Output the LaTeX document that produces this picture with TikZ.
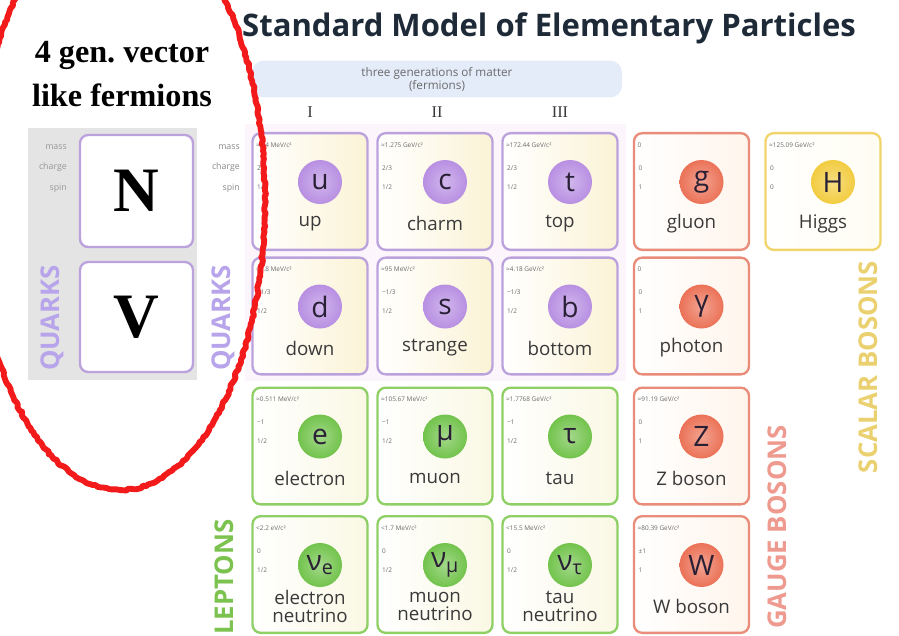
\documentclass[tikz,border=0pt]{standalone}
\usepackage{fontspec}
\setmainfont{Open Sans}
\newfontfamily\headserif{Liberation Serif}
\usetikzlibrary{positioning,decorations.pathmorphing}
\definecolor{TitleInk}{HTML}{1E2A38}
\definecolor{SymInk}{HTML}{2A2035}
\definecolor{ValInk}{HTML}{6A6A6A}
\definecolor{NameInk}{HTML}{3A3A3A}
\definecolor{PanelGrey}{HTML}{E4E4E4}
\definecolor{HeaderBlue}{HTML}{E4ECFA}
\definecolor{QuarkTint}{HTML}{FCF6FC}
\definecolor{RoughRed}{HTML}{F21A1A}
\definecolor{QuarkEdge}{HTML}{BBA2DD}
\definecolor{QuarkFill}{HTML}{FBF3D6}
\definecolor{QuarkBall}{HTML}{B88FE2}
\definecolor{QuarkText}{HTML}{B8A4EA}
\definecolor{LeptonEdge}{HTML}{8FD066}
\definecolor{LeptonFill}{HTML}{FAF8E4}
\definecolor{LeptonBall}{HTML}{72C34C}
\definecolor{LeptonText}{HTML}{7CC24F}
\definecolor{GaugeEdge}{HTML}{E98C7A}
\definecolor{GaugeFill}{HTML}{FFF5EC}
\definecolor{GaugeBall}{HTML}{EB7257}
\definecolor{GaugeText}{HTML}{EE9A8F}
\definecolor{ScalarEdge}{HTML}{F1D56C}
\definecolor{ScalarFill}{HTML}{FFFDF2}
\definecolor{ScalarBall}{HTML}{F2CC40}
\definecolor{ScalarText}{HTML}{EBD070}

\begin{document}
\begin{tikzpicture}[x=0.03cm,y=-0.03cm,
    cell/.style={draw=#1Edge,line width=2pt,rounded corners=7pt,left color=white,right color=#1Fill,
      minimum width=3.45cm,minimum height=3.5cm,inner sep=0pt},
    ball/.style={circle,inner color=#1Ball!65,outer color=#1Ball,minimum size=1.32cm,inner sep=0pt,
      font=\fontsize{24}{24}\selectfont,text=SymInk},
    pname/.style={align=center,font=\fontsize{16}{15}\selectfont,text=NameInk,inner sep=0pt},
    val/.style={anchor=west,font=\fontsize{5.5}{6}\selectfont,text=ValInk,inner sep=0pt},
    rowlab/.style={anchor=east,font=\fontsize{7.5}{8}\selectfont,text=ValInk!80,inner sep=0pt},
    group/.style={rotate=90,font=\fontsize{22}{22}\selectfont\bfseries,inner sep=0pt},
    vlbox/.style={draw=QuarkEdge,line width=2pt,fill=white,rounded corners=7pt,minimum width=3.39cm,inner sep=0pt,
      font=\headserif\bfseries\fontsize{54}{54}\selectfont}]
  \useasboundingbox (0,0) rectangle (899,635);
  \clip (0,0) rectangle (899,635);
  \fill[white] (0,0) rectangle (899,635);

  \node[font=\fontsize{26.5}{26.5}\selectfont\bfseries,text=TitleInk,inner sep=0pt] (title) at (549,28)
    {Standard Model of Elementary Particles};

  \fill[QuarkTint] (245,124) rectangle (626,381);
  \node[fill=HeaderBlue,rounded corners=10pt,minimum width=11.1cm,minimum height=1.1cm,align=center,
    font=\fontsize{10}{11}\selectfont,text=ValInk] (header) at (437,79)
    {three generations of matter\\(fermions)};
  \node[font=\headserif\fontsize{14}{14}\selectfont,text=NameInk] (gen1) at (310,112) {I};
  \node[font=\headserif\fontsize{14}{14}\selectfont,text=NameInk] (gen2) at (437,112) {II};
  \node[font=\headserif\fontsize{14}{14}\selectfont,text=NameInk] (gen3) at (560,112) {III};

  \node[rowlab] (mass) at (240,147) {mass};
  \node[rowlab] (charge) at (240,167) {charge};
  \node[rowlab] (spin) at (240,188) {spin};

  \foreach \id/\cx/\cy/\kind/\sym/\pn/\mass/\chg/\spn in {
      u/310/191.5/Quark/u/up/{≈2.4 MeV/c²}/{2/3}/{1/2},
      c/435/191.5/Quark/c/charm/{≈1.275 GeV/c²}/{2/3}/{1/2},
      t/560/191.5/Quark/t/top/{≈172.44 GeV/c²}/{2/3}/{1/2},
      d/310/316/Quark/d/down/{≈4.8 MeV/c²}/{−1/3}/{1/2},
      s/435/316/Quark/s/strange/{≈95 MeV/c²}/{−1/3}/{1/2},
      b/560/316/Quark/b/bottom/{≈4.18 GeV/c²}/{−1/3}/{1/2},
      e/310/446/Lepton/e/electron/{≈0.511 MeV/c²}/{−1}/{1/2},
      mu/435/446/Lepton/μ/muon/{≈105.67 MeV/c²}/{−1}/{1/2},
      tau/560/446/Lepton/τ/tau/{≈1.7768 GeV/c²}/{−1}/{1/2},
      nue/310/574.5/Lepton/{ν\textsubscript{e}}/{electron\\neutrino}/{<2.2 eV/c²}/0/{1/2},
      numu/435/574.5/Lepton/{ν\textsubscript{μ}}/{muon\\neutrino}/{<1.7 MeV/c²}/0/{1/2},
      nutau/560/574.5/Lepton/{ν\textsubscript{τ}}/{tau\\neutrino}/{<15.5 MeV/c²}/0/{1/2},
      g/691.5/191.5/Gauge/g/gluon/0/0/1,
      gamma/691.5/316/Gauge/γ/photon/0/0/1,
      Z/691.5/446/Gauge/Z/{Z boson}/{≈91.19 GeV/c²}/0/1,
      W/691.5/574.5/Gauge/W/{W boson}/{≈80.39 GeV/c²}/{±1}/1,
      H/823/191.5/Scalar/H/Higgs/{≈125.09 GeV/c²}/0/0}{
    \node[cell=\kind] (cell-\id) at (\cx,\cy) {};
    \node[ball=\kind] (ball-\id) at (\cx+10,\cy-9.5) {\sym};
    \node[pname] (name-\id) at (\cx,\cy+32) {\pn};
    \node[val] (mass-\id) at (\cx-54,\cy-46.5) {\mass};
    \node[val] (charge-\id) at (\cx-53,\cy-23.5) {\chg};
    \node[val] (spin-\id) at (\cx-53,\cy-4.5) {\spn};
  }

  \node[group,text=QuarkText] (quarks) at (223,318) {QUARKS};
  \node[group,text=LeptonText] (leptons) at (224,577) {LEPTONS};
  \node[group,text=GaugeText] (gauge) at (777,527) {GAUGE BOSONS};
  \node[group,text=ScalarText] (scalar) at (868,367) {SCALAR BOSONS};

  \fill[PanelGrey] (28,128) rectangle (197,380);
  \node[rowlab,text=ValInk!70] (vlmass) at (67,147) {mass};
  \node[rowlab,text=ValInk!70] (vlcharge) at (67,167) {charge};
  \node[rowlab,text=ValInk!70] (vlspin) at (67,188) {spin};
  \node[vlbox,minimum height=3.36cm] (boxN) at (136.5,191) {N};
  \node[vlbox,minimum height=3.3cm] (boxV) at (136.5,317) {V};
  \node[group,text=QuarkText] (vlquarks) at (52,318) {QUARKS};
  \node[align=center,font=\headserif\bfseries\fontsize{27.5}{38}\selectfont,text=black] (vltitle) at (122,74)
    {4 gen.\ vector\\like fermions};

  \draw[RoughRed,line width=5pt,line join=round,decorate,
    decoration={random steps,segment length=2.5pt,amplitude=0.9pt}]
    (120,200) ellipse [x radius=4.35cm,y radius=8.7cm];
\end{tikzpicture}
\end{document}
